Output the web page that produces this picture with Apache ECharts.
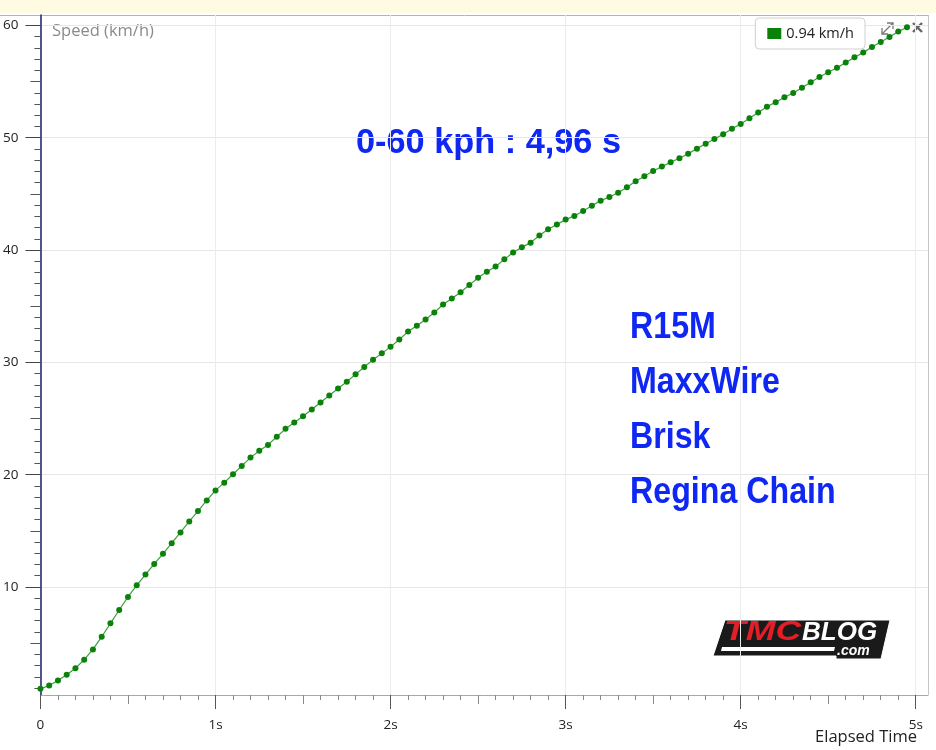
<!DOCTYPE html>
<html><head><meta charset="utf-8">
<script src="https://cdn.jsdelivr.net/npm/echarts@6/dist/echarts.min.js"></script>
<style>html,body{margin:0;padding:0;background:#fff}#c{width:936px;height:750px}</style>
</head><body><div id="c"></div>
<script>
// ---- data ----
const seriesName = '0.94 km/h';
const times = [0.00,0.05,0.10,0.15,0.20,0.25,0.30,0.35,0.40,0.45,0.50,0.55,0.60,0.65,0.70,0.75,0.80,0.85,0.90,0.95,
  1.00,1.05,1.10,1.15,1.20,1.25,1.30,1.35,1.40,1.45,1.50,1.55,1.60,1.65,1.70,1.75,1.80,1.85,1.90,1.95,
  2.00,2.05,2.10,2.15,2.20,2.25,2.30,2.35,2.40,2.45,2.50,2.55,2.60,2.65,2.70,2.75,2.80,2.85,2.90,2.95,
  3.00,3.05,3.10,3.15,3.20,3.25,3.30,3.35,3.40,3.45,3.50,3.55,3.60,3.65,3.70,3.75,3.80,3.85,3.90,3.95,
  4.00,4.05,4.10,4.15,4.20,4.25,4.30,4.35,4.40,4.45,4.50,4.55,4.60,4.65,4.70,4.75,4.80,4.85,4.90,4.95];
const speeds = [0.94,1.22,1.67,2.18,2.77,3.52,4.44,5.57,6.76,7.95,9.11,10.15,11.10,12.05,12.95,13.90,14.86,15.84,16.76,17.71,
  18.60,19.29,20.04,20.78,21.52,22.12,22.65,23.37,24.08,24.64,25.21,25.80,26.43,27.05,27.68,28.28,28.93,29.59,30.24,30.80,
  31.38,32.03,32.74,33.25,33.81,34.44,35.15,35.69,36.25,36.88,37.54,38.07,38.54,39.17,39.79,40.24,40.66,41.29,41.85,42.27,
  42.71,43.04,43.48,43.95,44.40,44.73,45.11,45.59,46.13,46.57,47.04,47.43,47.82,48.17,48.58,49.03,49.47,49.89,50.31,50.81,
  51.23,51.74,52.24,52.77,53.16,53.60,53.99,54.46,54.94,55.41,55.83,56.24,56.69,57.17,57.58,58.08,58.53,58.98,59.45,59.84];
const yTickLabels = [10,20,30,40,50,60];
const yMidTicks = [5,15,25,35,45,55];
const xTickLabels = [0,1,2,3,4,5];
const xMidTicks = [0.5,1.5,2.5,3.5,4.5];
const annotTitle = '0-60 kph : 4,96 s';
const annotLines = ['R15M','MaxxWire','Brisk','Regina Chain'];

// minor tick positions (axis styling)
const yMinorTicks = []; for (let i = 1; i <= 60; i++) if (i % 5) yMinorTicks.push(i);
const xMinorTicks = []; for (let i = 1; i <= 50; i++) if (i % 5) xMinorTicks.push(+(i / 10).toFixed(1));

const X_MIN = 0, X_MAX = 5.07, Y_MIN = 0.38, Y_MAX = 60.93;
const blue = '#0f27f2';

const chart = echarts.init(document.getElementById('c'));
const baseX = {type:'value', min:X_MIN, max:X_MAX, position:'bottom', offset:0,
  axisLine:{show:false}, axisLabel:{show:false}, splitLine:{show:false}};
const baseY = {type:'value', min:Y_MIN, max:Y_MAX, position:'left', offset:0,
  axisLine:{show:false}, axisLabel:{show:false}, splitLine:{show:false}};

function annot(text, y) {
  return {type:'text', scaleX:0.87, originX:630, originY:y,
    style:{x:630, y:y, text:text, verticalAlign:'middle', font:'bold 37px "Liberation Sans"', fill:blue}};
}

chart.setOption({
  animation:false,
  grid:{left:40, right:8, top:15, bottom:55, containLabel:false},
  legend:{
    right:71, top:18, icon:'rect', itemWidth:14, itemHeight:11, itemGap:8,
    padding:[8,11,8,12], borderColor:'#d0d0d0', borderWidth:1, borderRadius:4,
    backgroundColor:'#fff', selectedMode:false,
    textStyle:{fontFamily:'Open Sans', fontSize:14.5, color:'#222'},
    data:[seriesName]
  },
  xAxis:[
    Object.assign({}, baseX, {axisLine:{show:true, lineStyle:{color:'#a8a8a8', width:1}},
      axisTick:{show:true, length:5, customValues:xMinorTicks, lineStyle:{color:'#8a8a8a'}}}),
    Object.assign({}, baseX, {axisTick:{show:true, length:9, customValues:xMidTicks, lineStyle:{color:'#8a8a8a'}}}),
    Object.assign({}, baseX, {
      axisTick:{show:true, length:14, customValues:xTickLabels, lineStyle:{color:'#555'}},
      axisLabel:{show:true, customValues:xTickLabels, margin:23, fontFamily:'Open Sans', fontSize:13.5, color:'#222',
        formatter:v => v === 0 ? '0' : v + 's'},
      splitLine:{show:true, lineStyle:{color:'#ececec', width:1}}})
  ],
  yAxis:[
    Object.assign({}, baseY, {axisLine:{show:true, lineStyle:{color:'#1c1c6e', width:1.5}},
      axisTick:{show:true, length:6, customValues:yMinorTicks, lineStyle:{color:'#555'}}}),
    Object.assign({}, baseY, {axisTick:{show:true, length:10, customValues:yMidTicks, lineStyle:{color:'#555'}}}),
    Object.assign({}, baseY, {
      axisTick:{show:true, length:15, customValues:yTickLabels, lineStyle:{color:'#444'}},
      axisLabel:{show:true, customValues:yTickLabels, margin:22, fontFamily:'Open Sans', fontSize:13.5, color:'#222'},
      splitLine:{show:true, lineStyle:{color:'#e6e6e6', width:1}}})
  ],
  series:[{
    name:seriesName, type:'line', xAxisIndex:0, yAxisIndex:0,
    data:times.map((t,i)=>[t, speeds[i]]),
    symbol:'circle', symbolSize:6, showSymbol:true,
    itemStyle:{color:'#0a820a'},
    lineStyle:{color:'#3da03d', width:1.2},
    z:5
  }],
  graphic:[
    {type:'rect', shape:{x:0,y:0,width:936,height:13}, style:{fill:'#fffbe3'}, silent:true, z:-1},
    {type:'line', shape:{x1:0,y1:15.5,x2:929,y2:15.5}, style:{stroke:'#b4b4b4', lineWidth:1}, silent:true},
    {type:'line', shape:{x1:928.5,y1:15,x2:928.5,y2:695}, style:{stroke:'#c4c4c4', lineWidth:1}, silent:true},
    {type:'text', left:52, top:22.5, style:{text:'Speed (km/h)', font:'16.5px "Open Sans"', fill:'#8a8a8a'}},
    {type:'text', right:19, top:729, style:{text:'Elapsed Time', font:'16.5px "Open Sans"', fill:'#222'}},
    {type:'text', scaleX:0.98, originX:356, originY:143,
      style:{x:356, y:143, text:annotTitle, verticalAlign:'middle', font:'bold 35px "Liberation Sans"', fill:blue}},
    annot(annotLines[0], 328),
    annot(annotLines[1], 383),
    annot(annotLines[2], 438),
    annot(annotLines[3], 493),
    // expand icon
    {type:'group', silent:true, children:[
      {type:'line', shape:{x1:882,y1:34,x2:893,y2:23}, style:{stroke:'#777', lineWidth:1.3}},
      {type:'polyline', shape:{points:[[887,23],[893,23],[893,29]]}, style:{stroke:'#777', lineWidth:1.3, fill:null}},
      {type:'polyline', shape:{points:[[882,28],[882,34],[888,34]]}, style:{stroke:'#777', lineWidth:1.3, fill:null}}
    ]},
    // close icon
    {type:'group', silent:true, children:[
      {type:'line', shape:{x1:913,y1:23,x2:922,y2:32}, style:{stroke:'#666', lineWidth:2.4}},
      {type:'line', shape:{x1:922,y1:23,x2:913,y2:32}, style:{stroke:'#666', lineWidth:2.4}}
    ]},
    // TMCBLOG logo
    {type:'group', silent:true, children:[
      {type:'polygon', shape:{points:[[725,620],[890,620],[881,659],[836,659],[836,656],[713,656]]}, style:{fill:'#1a1a1a', stroke:'#fff', lineWidth:1}},
      {type:'text', scaleX:1.32, originX:724, originY:633, style:{x:724, y:633, text:'TMC', verticalAlign:'middle', font:'italic 900 27px "Liberation Sans"', fill:'#e41e26'}},
      {type:'text', style:{x:802, y:633, text:'BLOG', verticalAlign:'middle', font:'italic 900 26px "Liberation Sans"', fill:'#fff'}},
      {type:'polygon', shape:{points:[[722,647],[835,647],[834,651],[721,651]]}, style:{fill:'#fff'}},
      {type:'text', style:{x:837, y:651, text:'.com', verticalAlign:'middle', font:'italic bold 14px "Liberation Sans"', fill:'#fff'}}
    ]}
  ]
});
</script>
</body></html>
